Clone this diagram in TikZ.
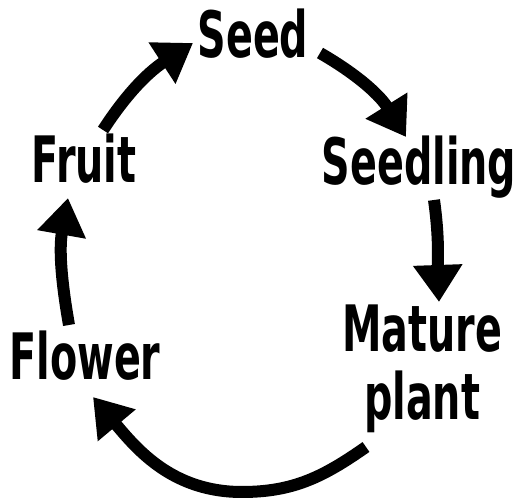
\documentclass[tikz,border=0pt]{standalone}
\usepackage{fontspec}
\usetikzlibrary{arrows.meta}
\newfontfamily\labfont{DejaVu Sans Bold}[FakeStretch=0.62]
\begin{document}
\begin{tikzpicture}[x=1pt,y=1pt,
  lab/.style={font=\labfont\fontsize{64}{68}\selectfont, inner sep=0pt, anchor=base, align=center},
  arr/.style={line width=12pt, line cap=butt, -{Triangle[length=37pt,width=47pt]}}]
\useasboundingbox (0,0) rectangle (517,503);
\node[lab] (seed) at (253,445) {Seed};
\node[lab] (seedling) at (419,318) {Seedling};
\node[lab] (fruit) at (84,320) {Fruit};
\node[lab] (flower) at (85,123) {Flower};
\node[lab] (mature) at (422,83) {Mature\\plant};
\draw[arr] ([shift={(19,53)}]fruit.base) to[out=57,in=213] ([shift={(-60,15)}]seed.base);
\draw[arr] ([shift={(67,5)}]seed.base) to[out=-30,in=122] ([shift={(-13,48)}]seedling.base);
\draw[arr] ([shift={(15,-15)}]seedling.base) to[out=-82,in=92] ([shift={(17,118)}]mature.base);
\draw[arr] ([shift={(-56,-27)}]mature.base) to[out=215,in=0] (242,11) to[out=180,in=310] ([shift={(8,-17)}]flower.base);
\draw[arr] ([shift={(-16,55)}]flower.base) to[out=100,in=-100] ([shift={(-16,-15)}]fruit.base);
\end{tikzpicture}
\end{document}
